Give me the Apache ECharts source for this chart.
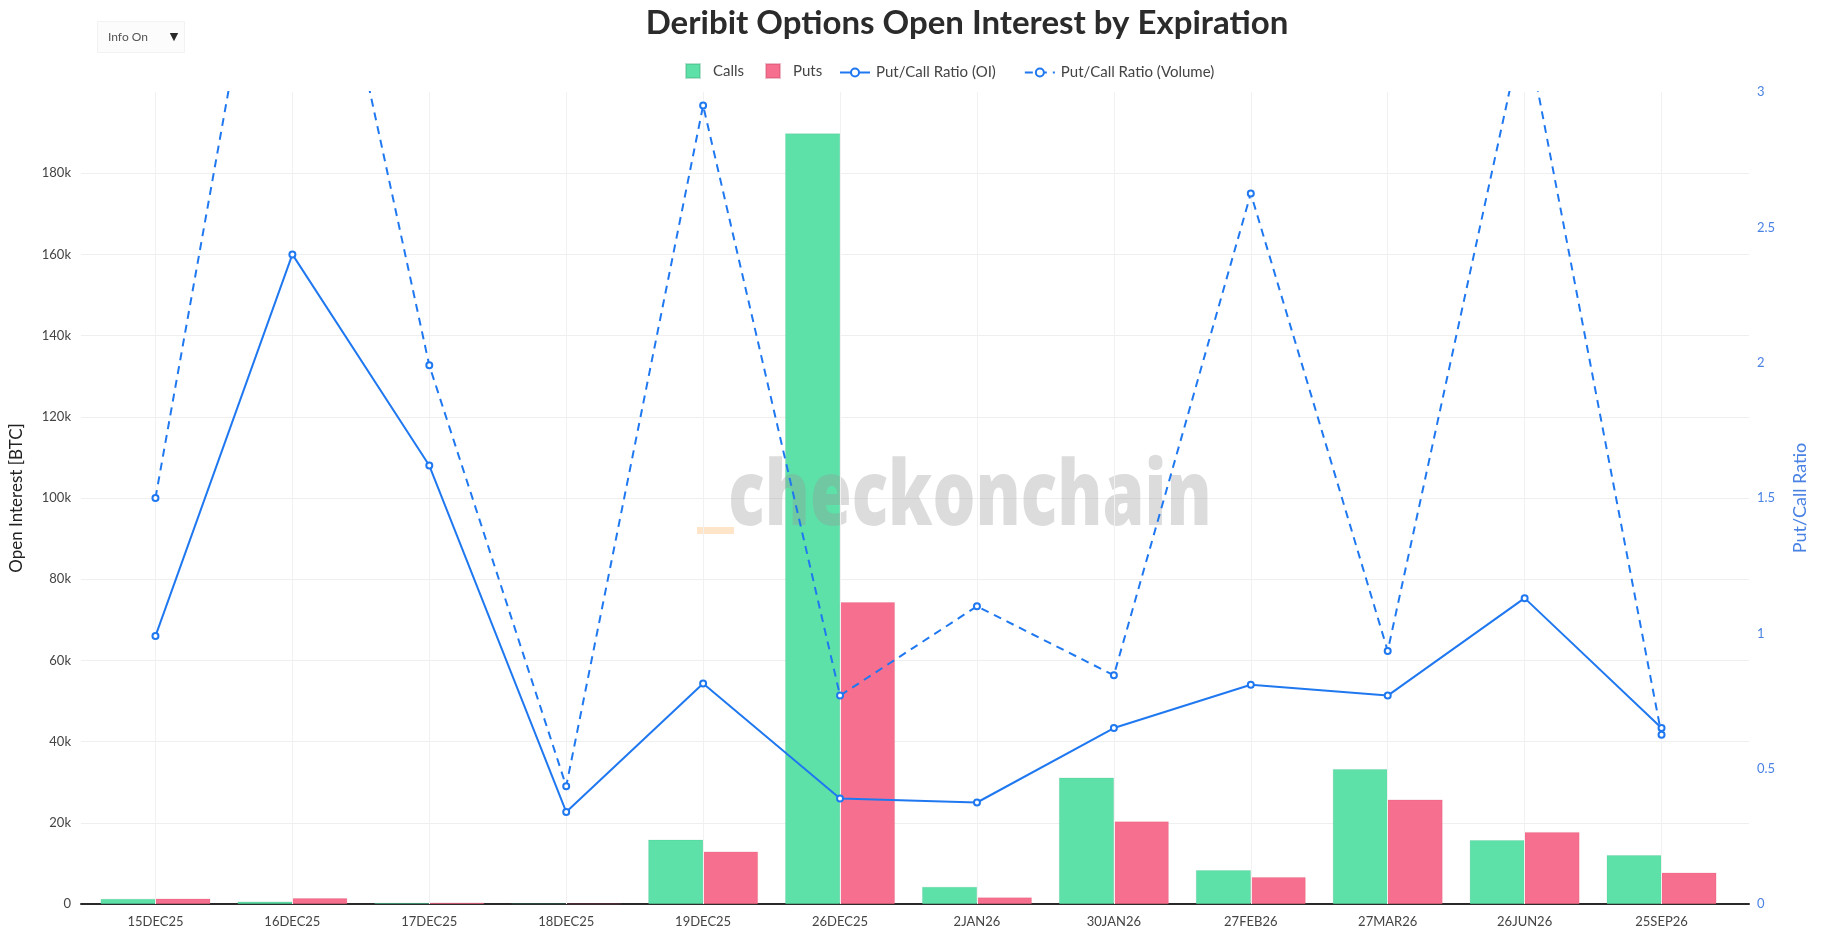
<!DOCTYPE html>
<html>
<head>
<meta charset="utf-8">
<script src="https://cdn.jsdelivr.net/npm/echarts@6/dist/echarts.min.js"></script>
<style>
  html, body { margin: 0; padding: 0; background: #fff; }
  #chart { width: 1822px; height: 944px; }
</style>
</head>
<body>
<div id="chart"></div>
<script>
const categories = ['15DEC25','16DEC25','17DEC25','18DEC25','19DEC25','26DEC25','2JAN26','30JAN26','27FEB26','27MAR26','26JUN26','25SEP26'];
const calls = [1230, 570, 250, 120, 15800, 189800, 4200, 31100, 8300, 33200, 15700, 12000];
const puts = [1300, 1400, 330, 60, 12900, 74300, 1600, 20300, 6600, 25700, 17700, 7700];
const pcrOI = [0.99, 2.40, 1.62, 0.34, 0.815, 0.39, 0.375, 0.65, 0.81, 0.77, 1.13, 0.65];
const pcrVolume = [1.50, 4.32, 1.99, 0.435, 2.95, 0.77, 1.10, 0.845, 2.625, 0.935, 3.26, 0.625];

const TITLE = 'Deribit Options Open Interest by Expiration';
const LEFT_NAME = 'Open Interest [BTC]';
const RIGHT_NAME = 'Put/Call Ratio';
const SERIES_NAMES = ['Calls', 'Puts', 'Put/Call Ratio (OI)', 'Put/Call Ratio (Volume)'];

const GREEN = '#5ee0a9';
const PINK = '#f76f8e';
const BLUE = '#1f78f0';
const BLUE_LABEL = '#4a82e4';
const FONT = 'Lato, "Open Sans", sans-serif';

const chart = echarts.init(document.getElementById('chart'), null, { renderer: 'canvas' });

const option = {
  backgroundColor: '#ffffff',
  animation: false,
  title: {
    text: TITLE,
    left: 962,
    textAlign: 'center',
    top: 2,
    textStyle: { fontFamily: FONT, fontWeight: 'bold', fontSize: 33, color: '#2b2b2b' }
  },
  legend: [
    {
      data: [SERIES_NAMES[0], SERIES_NAMES[1]],
      left: 680, top: 58,
      itemWidth: 14, itemHeight: 14, itemGap: 21,
      icon: 'rect',
      textStyle: { fontFamily: FONT, fontSize: 15, color: '#444', padding: [0, 0, 0, 8] }
    },
    {
      data: [SERIES_NAMES[2], SERIES_NAMES[3]],
      left: 834, top: 60,
      itemWidth: 30, itemHeight: 10, itemGap: 28,
      itemStyle: { borderWidth: 1.5 },
      textStyle: { fontFamily: FONT, fontSize: 15, color: '#444', padding: [0, 0, 0, 1] }
    }
  ],
  grid: [
    { left: 69, right: 73, top: 92, bottom: 40, containLabel: false },
    { left: 87, right: 92, top: 92, bottom: 40, containLabel: false }
  ],
  xAxis: [
    {
      gridIndex: 0, type: 'value', min: 0, max: 1,
      axisLine: { show: true, lineStyle: { color: '#2a2a2a', width: 2 } },
      axisTick: { show: false }, axisLabel: { show: false }, splitLine: { show: false }
    },
    {
      gridIndex: 1, type: 'category', data: categories, boundaryGap: true,
      axisLine: { show: false }, axisTick: { show: false }, splitLine: { show: false },
      axisLabel: { fontFamily: FONT, fontSize: 13, color: '#444', margin: 11 }
    }
  ],
  yAxis: [
    {
      gridIndex: 0, type: 'value', position: 'left', min: 0, max: 200000, interval: 20000,
      name: LEFT_NAME, nameLocation: 'middle', nameGap: 56, nameRotate: 90,
      nameTextStyle: { fontFamily: FONT, fontSize: 17, color: '#222' },
      axisLine: { show: false }, axisTick: { show: false },
      axisLabel: {
        fontFamily: FONT, fontSize: 13, color: '#444', margin: 10, showMaxLabel: false,
        formatter: v => v === 0 ? '0' : (v / 1000) + 'k'
      },
      splitLine: { show: true, showMaxLine: false, showMinLine: false, lineStyle: { color: '#efefef', width: 1 } }
    },
    {
      gridIndex: 0, type: 'value', position: 'right', min: 0, max: 3, interval: 0.5,
      name: RIGHT_NAME, nameLocation: 'middle', nameGap: 42, nameRotate: 90,
      nameTextStyle: { fontFamily: FONT, fontSize: 18, color: BLUE_LABEL },
      axisLine: { show: false }, axisTick: { show: false },
      axisLabel: { fontFamily: FONT, fontSize: 13, color: BLUE_LABEL, margin: 8 },
      splitLine: { show: false }
    },
    {
      gridIndex: 1, type: 'value', min: 0, max: 200000, show: false,
      splitLine: { show: false }
    },
    {
      gridIndex: 1, type: 'value', min: 0, max: 3, show: false,
      splitLine: { show: false }
    }
  ],
  graphic: [
    {
      type: 'rect', left: 97, top: 21, z: 50,
      shape: { width: 87, height: 31 },
      style: { fill: '#fcfcfc', stroke: '#f2f2f2', lineWidth: 1 }
    },
    {
      type: 'text', x: 108, y: 37, z: 51,
      style: { text: 'Info On', fontFamily: FONT, fontSize: 12, fill: '#555', textVerticalAlign: 'middle' }
    },
    {
      type: 'text', x: 174, y: 37, z: 51,
      style: { text: '▼', fontFamily: 'DejaVu Sans', fontSize: 11, fill: '#2a2a2a', textAlign: 'center', textVerticalAlign: 'middle' }
    },
    {
      type: 'text', x: 970, y: 499, z: 5, scaleX: 0.75, scaleY: 1, silent: true,
      style: {
        text: 'checkonchain', font: '800 90px "Open Sans", sans-serif',
        fill: 'rgba(150,150,150,0.33)', textAlign: 'center', textVerticalAlign: 'middle'
      }
    },
    {
      type: 'rect', left: 697, top: 527, z: 5, silent: true,
      shape: { width: 37, height: 7 },
      style: { fill: 'rgba(252,190,120,0.4)' }
    }
  ],
  series: [
    {
      name: '_grid', type: 'line', xAxisIndex: 1, yAxisIndex: 2, data: [], z: 0,
      silent: true,
      markLine: {
        silent: true, symbol: 'none', label: { show: false },
        lineStyle: { color: '#f1f1f1', width: 1, type: 'solid' },
        data: categories.map(c => ({ xAxis: c }))
      }
    },
    {
      name: SERIES_NAMES[0], type: 'bar', xAxisIndex: 1, yAxisIndex: 2, data: calls,
      barGap: '0%', barCategoryGap: '20%', z: 2,
      itemStyle: { color: GREEN, borderColor: 'rgba(60,170,120,0.35)', borderWidth: 0.5 }
    },
    {
      name: SERIES_NAMES[1], type: 'bar', xAxisIndex: 1, yAxisIndex: 2, data: puts,
      barGap: '0%', barCategoryGap: '20%', z: 2,
      itemStyle: { color: PINK, borderColor: 'rgba(200,70,100,0.35)', borderWidth: 0.5 }
    },
    {
      name: SERIES_NAMES[2], type: 'line', xAxisIndex: 1, yAxisIndex: 3, data: pcrOI, z: 10,
      symbol: 'emptyCircle', symbolSize: 6, showSymbol: true,
      lineStyle: { color: BLUE, width: 2 },
      itemStyle: { color: BLUE, borderWidth: 1 }
    },
    {
      name: SERIES_NAMES[3], type: 'line', xAxisIndex: 1, yAxisIndex: 3, data: pcrVolume, z: 10,
      symbol: 'emptyCircle', symbolSize: 6, showSymbol: true,
      lineStyle: { color: BLUE, width: 2, type: [8, 6] },
      itemStyle: { color: BLUE, borderWidth: 1 }
    }
  ]
};

chart.setOption(option);
</script>
</body>
</html>
